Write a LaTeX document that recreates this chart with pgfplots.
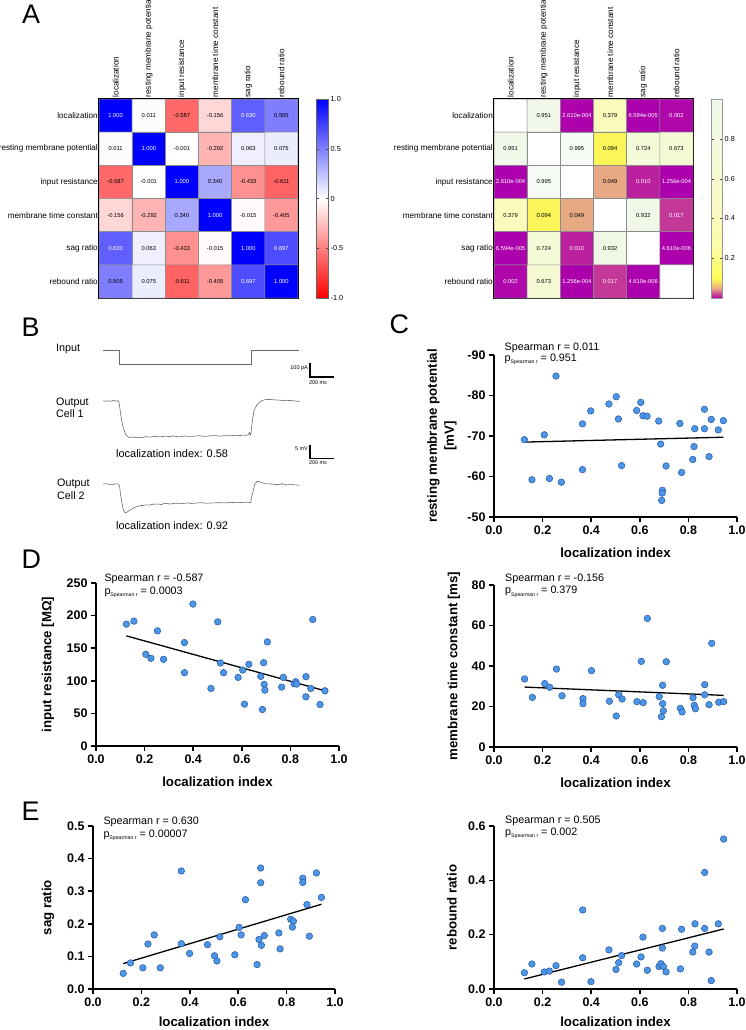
\documentclass[border=0pt]{standalone}
\usepackage{fontspec}
\setmainfont{Liberation Sans}
\usepackage{pgfplots}
\usepackage{pgfplotstable}
\pgfplotsset{compat=1.18, /pgf/number format/assume math mode=true}

\definecolor{ptfill}{RGB}{77,150,230}
\definecolor{ptdraw}{RGB}{35,85,165}
\definecolor{trace}{RGB}{105,105,105}
\newcommand{\fs}[1]{\fontsize{#1}{#1}\selectfont}
\newcommand{\W}{\color{white}}

% ---------- correlation matrix (Spearman r) ----------
\pgfplotstableread{
x y c lab
0 0 1.000 {\W 1.000}
1 0 0.011 0.011
2 0 -0.587 -0.587
3 0 -0.156 -0.156
4 0 0.630 {\W 0.630}
5 0 0.505 0.505
0 1 0.011 0.011
1 1 1.000 {\W 1.000}
2 1 -0.001 -0.001
3 1 -0.292 -0.292
4 1 0.063 0.063
5 1 0.075 0.075
0 2 -0.587 -0.587
1 2 -0.001 -0.001
2 2 1.000 {\W 1.000}
3 2 0.340 0.340
4 2 -0.433 -0.433
5 2 -0.611 -0.611
0 3 -0.156 -0.156
1 3 -0.292 -0.292
2 3 0.340 0.340
3 3 1.000 {\W 1.000}
4 3 -0.015 -0.015
5 3 -0.405 -0.405
0 4 0.630 {\W 0.630}
1 4 0.063 0.063
2 4 -0.433 -0.433
3 4 -0.015 -0.015
4 4 1.000 {\W 1.000}
5 4 0.697 {\W 0.697}
0 5 0.505 0.505
1 5 0.075 0.075
2 5 -0.611 -0.611
3 5 -0.405 -0.405
4 5 0.697 {\W 0.697}
5 5 1.000 {\W 1.000}
}\corrtab

% ---------- p values ----------
\pgfplotstableread{
x y c lab
0 0 1 {}
1 0 0.951 0.951
2 0 0.000261 {\W 2.610e-004}
3 0 0.379 0.379
4 0 0.00006594 {\W 6.594e-005}
5 0 0.002 {\W 0.002}
0 1 0.951 0.951
1 1 1 {}
2 1 0.995 0.995
3 1 0.094 0.094
4 1 0.724 0.724
5 1 0.673 0.673
0 2 0.000261 {\W 2.610e-004}
1 2 0.995 0.995
2 2 1 {}
3 2 0.049 0.049
4 2 0.010 {\W 0.010}
5 2 0.0001256 {\W 1.256e-004}
0 3 0.379 0.379
1 3 0.094 0.094
2 3 0.049 0.049
3 3 1 {}
4 3 0.932 0.932
5 3 0.017 {\W 0.017}
0 4 0.00006594 {\W 6.594e-005}
1 4 0.724 0.724
2 4 0.010 {\W 0.010}
3 4 0.932 0.932
4 4 1 {}
5 4 0.00000461 {\W 4.610e-006}
0 5 0.002 {\W 0.002}
1 5 0.673 0.673
2 5 0.0001256 {\W 1.256e-004}
3 5 0.017 {\W 0.017}
4 5 0.00000461 {\W 4.610e-006}
5 5 1 {}
}\ptab

% ---------- scatter data: localization index vs. parameters ----------
\pgfplotstableread{
x y
0.125 -69.1
0.156 -59.2
0.207 -70.3
0.228 -59.5
0.255 -84.8
0.277 -58.6
0.364 -73.0
0.364 -61.7
0.398 -76.2
0.473 -77.9
0.503 -79.7
0.512 -74.2
0.525 -62.7
0.587 -76.3
0.604 -78.3
0.613 -75.0
0.630 -74.9
0.678 -73.7
0.686 -68.0
0.693 -56.6
0.692 -55.9
0.690 -54.1
0.708 -62.6
0.765 -73.1
0.772 -61.0
0.818 -64.2
0.823 -67.4
0.826 -71.8
0.866 -76.6
0.866 -71.8
0.885 -64.9
0.894 -74.1
0.923 -71.5
0.944 -73.8
}\rmptab

\pgfplotstableread{
x y
0.125 186.9
0.156 191.5
0.205 140.7
0.226 134.5
0.253 176.6
0.278 133.0
0.364 158.6
0.364 112.4
0.399 217.7
0.473 88.3
0.501 190.4
0.512 127.3
0.525 112.4
0.585 105.2
0.604 116.5
0.611 64.2
0.629 125.3
0.678 106.8
0.685 56.0
0.690 127.8
0.692 94.5
0.695 85.7
0.705 159.7
0.764 90.3
0.771 105.2
0.815 95.5
0.822 98.6
0.826 95.0
0.864 106.3
0.864 75.5
0.884 88.3
0.892 194.0
0.922 63.7
0.942 84.7
}\rintab

\pgfplotstableread{
x y
0.126 33.6
0.158 24.5
0.209 31.3
0.229 29.5
0.257 38.5
0.280 25.3
0.366 23.9
0.366 21.4
0.401 37.7
0.475 22.6
0.503 15.3
0.513 25.8
0.527 23.7
0.588 22.4
0.606 42.3
0.614 21.9
0.631 63.5
0.680 24.9
0.689 15.0
0.694 30.5
0.694 21.4
0.697 17.9
0.709 42.1
0.767 19.1
0.774 17.3
0.819 24.4
0.824 20.6
0.829 18.9
0.867 30.8
0.867 25.8
0.885 20.9
0.896 51.2
0.925 22.1
0.945 22.4
}\tautab

\pgfplotstableread{
x y
0.125 0.048
0.155 0.080
0.206 0.065
0.227 0.138
0.253 0.166
0.278 0.065
0.365 0.362
0.365 0.139
0.399 0.109
0.473 0.136
0.502 0.102
0.512 0.086
0.524 0.160
0.586 0.105
0.604 0.189
0.612 0.166
0.630 0.274
0.678 0.075
0.686 0.152
0.693 0.371
0.693 0.326
0.696 0.134
0.708 0.164
0.768 0.172
0.773 0.123
0.817 0.214
0.828 0.208
0.824 0.190
0.867 0.340
0.867 0.327
0.884 0.259
0.894 0.162
0.923 0.356
0.944 0.281
}\sagtab

\pgfplotstableread{
x y
0.125 0.060
0.156 0.092
0.207 0.063
0.228 0.066
0.255 0.086
0.278 0.025
0.365 0.291
0.365 0.115
0.399 0.027
0.473 0.144
0.502 0.072
0.513 0.097
0.525 0.123
0.587 0.092
0.605 0.118
0.613 0.191
0.631 0.069
0.679 0.083
0.687 0.093
0.693 0.223
0.693 0.151
0.697 0.083
0.708 0.063
0.767 0.074
0.772 0.220
0.818 0.136
0.826 0.158
0.827 0.240
0.867 0.223
0.867 0.429
0.885 0.136
0.894 0.031
0.923 0.240
0.945 0.552
}\rebtab

\pgfplotsset{
  hmapax/.style={
    scale only axis, width=199bp, height=199bp,
    xmin=-0.5, xmax=5.5, ymin=-0.5, ymax=5.5, y dir=reverse,
    enlargelimits=false,
    xtick={0,...,5}, ytick={0,...,5},
    xticklabels={localization,resting membrane potential,input resistance,membrane time constant,sag ratio,rebound ratio},
    yticklabels={localization,resting membrane potential,input resistance,membrane time constant,sag ratio,rebound ratio},
    xticklabel pos=upper,
    xticklabel style={rotate=90, anchor=west, font=\fs{8.2}, inner sep=1.5bp},
    yticklabel style={font=\fs{8.2}, inner sep=1bp},
    major tick length=0pt,
    axis line style={line width=1.3bp, black},
  },
  hcells/.style={matrix plot*, mesh/cols=6, point meta=explicit, draw=black!45, line width=0.5bp},
  cellnums/.style={only marks, mark=none, point meta=explicit symbolic,
    nodes near coords, nodes near coords align=center,
    every node near coord/.append style={font=\fs{5.8}, anchor=center, inner sep=0pt}},
  scatax/.style={
    scale only axis, width=243bp, height=162bp,
    axis x line=bottom, axis y line=left,
    axis line style={-, line width=1.5bp},
    tick align=outside, major tick length=5bp,
    major tick style={line width=1.5bp, black},
    xmin=0, xmax=1, xtick={0,0.2,0.4,0.6,0.8,1},
    xticklabel style={/pgf/number format/fixed, /pgf/number format/fixed zerofill, /pgf/number format/precision=1},
    tick label style={font=\bfseries\fs{12.5}},
    label style={font=\bfseries\fontsize{13.3}{17}\selectfont},
    xlabel={localization index},
    xlabel style={at={(axis description cs:0.5,0)}, anchor=center, yshift=-36bp},
    clip=false,
  },
  celldots/.style={only marks, mark=*, mark size=3.3bp, mark options={fill=ptfill, draw=ptdraw, line width=0.5bp}},
  regline/.style={black, line width=1.3bp, no marks},
  tline/.style={trace, line width=0.6bp, no marks, line join=round},
  sbar/.style={black, line width=1.3bp, no marks},
  traceax/.style={axis lines=none, xmin=0, xmax=2000, x=0.12bp, anchor=south west, clip=false},
}

\newcommand{\spear}[5]{%
  \node[anchor=west, font=\fs{10.8}, inner sep=0pt] at (#1bp,-#2bp) {Spearman r = #4};
  \node[anchor=west, font=\fs{10.8}, inner sep=0pt] at (#1bp,-#3bp) {p\raisebox{-2.2bp}{\fs{5.2}Spearman r} = #5};}

\begin{document}
\begin{tikzpicture}
\useasboundingbox (0,0) rectangle (746bp,-1030bp);

% ===== A: correlation heatmap =====
\begin{axis}[hmapax, at={(99bp,-298bp)}, anchor=south west,
  colormap={rb}{rgb255(0pt)=(255,0,0); rgb255(1pt)=(255,255,255); rgb255(2pt)=(0,0,255)},
  point meta min=-1, point meta max=1,
  colorbar,
  colorbar style={at={(parent axis.north east)}, anchor=north west, xshift=10bp, width=12bp,
    ytick={-1,-0.5,0,0.5,1}, yticklabels={-1.0,-0.5,0,0.5,1.0},
    yticklabel style={font=\fs{7.3}, inner sep=2bp},
    major tick length=2.5bp, major tick style={black!70},
    axis line style={black!60, line width=0.6bp}}]
\addplot[hcells] table[x=x, y=y, meta=c] {\corrtab};
\addplot[cellnums] table[x=x, y=y, meta=lab] {\corrtab};
\end{axis}

% ===== A: p-value heatmap =====
\begin{axis}[hmapax, at={(494bp,-298bp)}, anchor=south west,
  colormap={pm}{rgb255(0pt)=(172,0,172); rgb255(12pt)=(190,40,155); rgb255(25pt)=(205,85,148);
    rgb255(50pt)=(232,172,130); rgb255(100pt)=(255,255,85); rgb255(250pt)=(252,252,165);
    rgb255(400pt)=(250,250,190); rgb255(700pt)=(245,250,215); rgb255(990pt)=(240,248,236);
    rgb255(1000pt)=(255,255,255)},
  point meta min=0, point meta max=1,
  colorbar,
  colorbar style={at={(parent axis.north east)}, anchor=north west, xshift=10bp, width=11bp,
    ytick={0.2,0.4,0.6,0.8}, yticklabels={0.2,0.4,0.6,0.8},
    yticklabel style={font=\fs{7.3}, inner sep=2bp},
    major tick length=2.5bp, major tick style={black!70},
    axis line style={black!40, line width=0.6bp}}]
\addplot[hcells] table[x=x, y=y, meta=c] {\ptab};
\addplot[cellnums] table[x=x, y=y, meta=lab] {\ptab};
\end{axis}

% ===== B: example traces =====
\begin{axis}[traceax, ymin=-200, ymax=10, y=0.14bp, at={(103.3bp,-378bp)}]
\addplot[tline] coordinates {(0,0) (131,0) (131,-100) (1233,-100) (1233,0) (1633,0)};
\addplot[sbar] coordinates {(1722,-92.9) (1722,-192.9) (1922,-192.9)};
\end{axis}

\begin{axis}[traceax, ymin=-25, ymax=3, y=2.7bp, at={(103.3bp,-468.5bp)}]
\addplot[tline] coordinates {
(0,0.1) (20,-0.1) (39,0.1) (60,-0.1) (81,0.2) (105,0) (128,0) (135,-1.5) (143,-4.5) (153,-7.0)
(164,-9.6) (181,-11.9) (198,-13.0) (217,-13.5) (248,-13.3) (280,-13.6) (306,-13.4) (330,-13.6)
(350,-13.2) (389,-13.4) (410,-13.2) (430,-13.1) (473,-13.3) (500,-13.1) (520,-13.0) (556,-13.2)
(580,-12.9) (600,-13.1) (639,-13.3) (680,-12.9) (700,-13.1) (723,-13.1) (770,-13.0) (790,-12.8)
(806,-12.9) (850,-13.1) (889,-12.9) (930,-12.8) (973,-13.0) (1015,-12.8) (1056,-12.9)
(1100,-12.7) (1139,-12.8) (1170,-12.6) (1189,-12.7) (1211,-12.5) (1218,-11.6) (1224,-12.4)
(1229,-12.6) (1237,-9.5) (1248,-5.5) (1256,-3.6) (1278,-1.6) (1298,-0.6) (1320,0.1) (1348,0.5)
(1389,0.6) (1430,0.4) (1473,0.3) (1515,0.1) (1556,0.2) (1600,0) (1633,-0.2)};
\addplot[sbar] coordinates {(1722,-16.3) (1722,-21.3) (1922,-21.3)};
\end{axis}

\begin{axis}[traceax, ymin=-15, ymax=3, y=2.7bp, at={(103.3bp,-524.8bp)}]
\addplot[tline] coordinates {
(0,0) (20,0.2) (40,0.1) (60,-0.1) (80,-0.1) (100,0.2) (120,0.1) (135,-0.5) (143,-3.5) (155,-6.9)
(167,-9.5) (181,-10.5) (198,-10.3) (222,-9.6) (260,-8.6) (306,-7.9) (335,-7.8) (360,-7.6)
(385,-7.7) (410,-7.4) (460,-7.3) (485,-7.5) (510,-7.0) (560,-7.3) (585,-7.1) (610,-7.0)
(660,-7.1) (710,-6.9) (735,-7.1) (760,-7.0) (810,-6.8) (860,-7.0) (910,-6.9) (960,-6.8)
(1010,-6.9) (1060,-6.7) (1110,-6.8) (1160,-6.7) (1200,-6.6) (1228,-6.8) (1237,-4.5)
(1248,-2.7) (1262,0.1) (1285,1.2) (1310,0.8) (1350,0.2) (1400,0.1) (1450,-0.1) (1480,0.0)
(1490,0.4) (1500,-0.2) (1550,-0.1) (1600,-0.2) (1633,-0.4)};
\end{axis}

% ===== C =====
\begin{axis}[scatax, at={(494bp,-517bp)}, anchor=south west,
  ymin=-90, ymax=-50, y dir=reverse, ytick={-90,-80,-70,-60,-50},
  ylabel={resting membrane potential\\{}[mV]},
  ylabel style={at={(axis description cs:0,0.5)}, anchor=center, yshift=52bp, align=center}]
\addplot[regline] coordinates {(0.125,-68.5) (0.944,-69.7)};
\addplot[celldots] table[x=x, y=y] {\rmptab};
\end{axis}

% ===== D: input resistance =====
\begin{axis}[scatax, at={(96bp,-746bp)}, anchor=south west, height=163bp,
  ymin=0, ymax=250, ytick={0,50,100,150,200,250},
  ylabel={input resistance [MΩ]},
  ylabel style={at={(axis description cs:0,0.5)}, anchor=center, yshift=48bp}]
\addplot[regline] coordinates {(0.125,168.9) (0.942,84.7)};
\addplot[celldots] table[x=x, y=y] {\rintab};
\end{axis}

% ===== D: membrane time constant =====
\begin{axis}[scatax, at={(494bp,-747bp)}, anchor=south west,
  ymin=0, ymax=80, ytick={0,20,40,60,80},
  ylabel={membrane time constant [ms]},
  ylabel style={at={(axis description cs:0,0.5)}, anchor=center, yshift=40bp}]
\addplot[regline] coordinates {(0.126,29.6) (0.945,25.5)};
\addplot[celldots] table[x=x, y=y] {\tautab};
\end{axis}

% ===== E: sag ratio =====
\begin{axis}[scatax, at={(93bp,-989bp)}, anchor=south west, width=242bp, height=163bp,
  ymin=0, ymax=0.5, ytick={0,0.1,0.2,0.3,0.4,0.5},
  yticklabel style={/pgf/number format/fixed, /pgf/number format/fixed zerofill, /pgf/number format/precision=1},
  xlabel style={yshift=3bp},
  ylabel={sag ratio},
  ylabel style={at={(axis description cs:0,0.5)}, anchor=center, yshift=45bp}]
\addplot[regline] coordinates {(0.125,0.078) (0.944,0.260)};
\addplot[celldots] table[x=x, y=y] {\sagtab};
\end{axis}

% ===== E: rebound ratio =====
\begin{axis}[scatax, at={(494bp,-989bp)}, anchor=south west, height=163bp,
  ymin=0, ymax=0.6, ytick={0,0.2,0.4,0.6},
  yticklabel style={/pgf/number format/fixed, /pgf/number format/fixed zerofill, /pgf/number format/precision=1},
  xlabel style={yshift=3bp},
  ylabel={rebound ratio},
  ylabel style={at={(axis description cs:0,0.5)}, anchor=center, yshift=42bp}]
\addplot[regline] coordinates {(0.125,0.037) (0.945,0.221)};
\addplot[celldots] table[x=x, y=y] {\rebtab};
\end{axis}

% ----- statistics -----
\spear{504.5}{347.7}{359.5}{0.011}{0.951}
\spear{104.3}{579}{592}{-0.587}{0.0003}
\spear{505}{579}{591.7}{-0.156}{0.379}
\spear{103.3}{822.3}{835}{0.630}{0.00007}
\spear{505}{820.7}{833.3}{0.505}{0.002}

% ----- trace annotations -----
\node[anchor=west, font=\fs{10.8}, inner sep=0pt] at (56bp,-349bp) {Input};
\node[anchor=west, align=left, font=\fontsize{10.8}{12.5}\selectfont, inner sep=0pt] at (56bp,-408bp) {Output\\Cell 1};
\node[anchor=west, align=left, font=\fontsize{10.8}{12.5}\selectfont, inner sep=0pt] at (57bp,-489.5bp) {Output\\Cell 2};
\node[anchor=west, font=\fs{11}, inner sep=0pt] at (116bp,-454bp) {localization index: 0.58};
\node[anchor=west, font=\fs{11}, inner sep=0pt] at (116bp,-526bp) {localization index: 0.92};
\node[anchor=east, font=\fs{5.5}, inner sep=0pt] at (308bp,-367.7bp) {100 pA};
\node[anchor=center, font=\fs{5.5}, inner sep=0pt] at (318bp,-382.3bp) {200 ms};
\node[anchor=east, font=\fs{5.5}, inner sep=0pt] at (308bp,-449bp) {5 mV};
\node[anchor=center, font=\fs{5.5}, inner sep=0pt] at (318bp,-462.7bp) {200 ms};

% ----- panel letters -----
\node[anchor=base west, font=\fs{27}, inner sep=0pt] at (22bp,-23.3bp) {A};
\node[anchor=base west, font=\fs{27}, inner sep=0pt] at (21.5bp,-336.5bp) {B};
\node[anchor=base west, font=\fs{27}, inner sep=0pt] at (389.5bp,-333.5bp) {C};
\node[anchor=base west, font=\fs{27}, inner sep=0pt] at (21.5bp,-568.5bp) {D};
\node[anchor=base west, font=\fs{27}, inner sep=0pt] at (21.5bp,-820bp) {E};
\end{tikzpicture}
\end{document}
